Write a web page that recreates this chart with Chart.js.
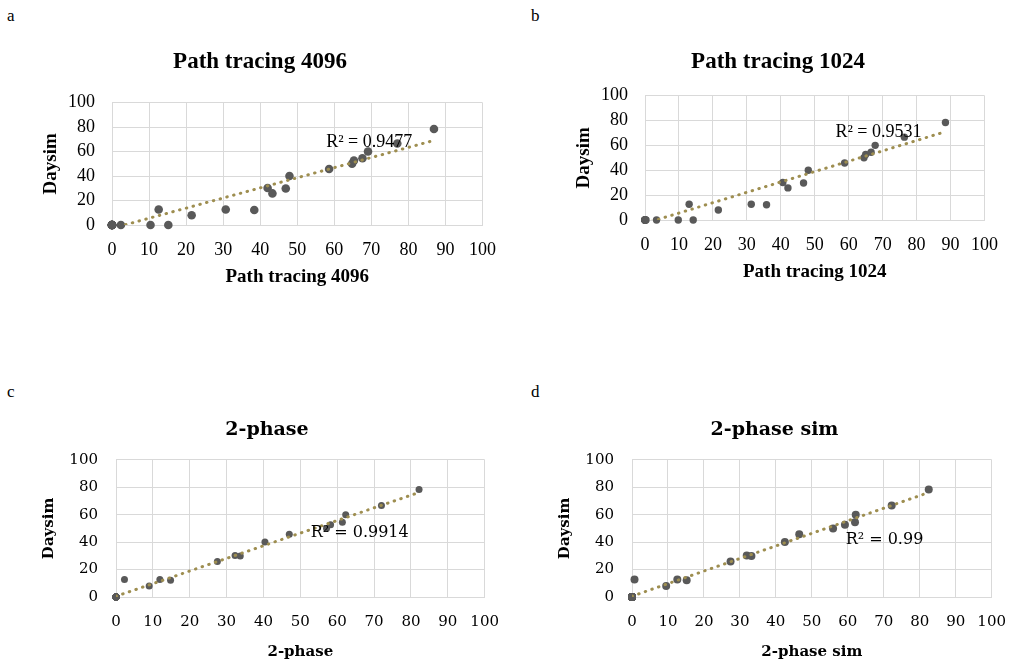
<!DOCTYPE html>
<html>
<head>
<meta charset="utf-8">
<script src="https://cdn.jsdelivr.net/npm/chart.js@4.4.1/dist/chart.umd.min.js"></script>
<style>
  body { margin: 0; background: #fff; width: 1022px; height: 661px; position: relative; overflow: hidden; }
  canvas { position: absolute; }
  .tag { position: absolute; font-family: "Liberation Serif", serif; font-size: 17px; color: #000; }
</style>
</head>
<body>
<div class="tag" style="left:7px;top:6px">a</div>
<div class="tag" style="left:531px;top:6px">b</div>
<div class="tag" style="left:7px;top:382px">c</div>
<div class="tag" style="left:531px;top:382px">d</div>

<canvas id="chartA" width="480" height="270" style="left:30px;top:30px"></canvas>
<canvas id="chartB" width="452" height="265" style="left:560px;top:30px"></canvas>
<canvas id="chartC" width="480" height="261" style="left:35px;top:400px"></canvas>
<canvas id="chartD" width="474" height="261" style="left:548px;top:400px"></canvas>

<script>
// Daysim (y) values, shared by the four panels (many sensor points sit at 0)
const daysim = [0, 0, 0, 0, 0, 0, 0, 0, 0, 0, 0, 0, 0, 0, 0,
    12.7, 8, 12.7, 12.2, 30.2, 25.8, 29.8, 40, 45.8, 50, 52.6, 54.5, 60, 66.6, 78.4];

// x values for each panel, same point order as daysim
const pathTracing4096 = [0, 0, 0, 0, 0, 0, 0, 0, 0, 0, 0, 0, 2.4, 10.4, 15.2,
    12.6, 21.5, 30.7, 38.4, 42.0, 43.3, 46.9, 47.9, 58.6, 64.8, 65.3, 67.6, 69.1, 77.0, 86.9];
const pathTracing1024 = [0, 0, 0, 0, 0, 0, 0, 0, 0, 0, 0, 0.3, 3.4, 9.8, 14.2,
    13.0, 21.6, 31.3, 35.8, 40.6, 42.1, 46.7, 48.1, 58.8, 64.5, 65.0, 66.6, 67.8, 76.4, 88.5];
const twoPhase = [0, 0, 0, 0, 0, 0, 0, 0, 0, 0, 0, 0, 0, 0, 0,
    2.3, 9.0, 11.9, 14.8, 32.3, 27.5, 33.7, 40.4, 47.0, 57.1, 58.2, 61.4, 62.3, 72.0, 82.2];
const twoPhaseSim = [0, 0, 0, 0, 0, 0, 0, 0, 0, 0, 0, 0, 0, 0, 0,
    0.7, 9.5, 12.6, 15.2, 31.9, 27.4, 33.2, 42.5, 46.5, 55.9, 59.2, 62.0, 62.2, 72.2, 82.5];

const r2Texts = ['R² = 0.9477', 'R² = 0.9531', 'R² = 0.9914', 'R² = 0.99'];
const xRange = [0, 100];
const yRange = [0, 100];

const MARKER = '#595959';
const TREND = '#9e8e50';
const GRID = '#d9d9d9';

// linear trendline (least squares), like Excel's
function linearFit(xs, ys) {
    const n = xs.length;
    const mx = xs.reduce((a, b) => a + b, 0) / n;
    const my = ys.reduce((a, b) => a + b, 0) / n;
    let sxy = 0, sxx = 0;
    xs.forEach((x, i) => { sxy += (x - mx) * (ys[i] - my); sxx += (x - mx) * (x - mx); });
    const slope = sxy / sxx;
    const b = my - slope * mx;
    const x0 = Math.min(...xs), x1 = Math.max(...xs);
    return [{ x: x0, y: slope * x0 + b }, { x: x1, y: slope * x1 + b }];
}

// R² text drawn at a data position
const r2Label = {
    id: 'r2Label',
    afterDatasetsDraw(chart, args, opts) {
        const { ctx, scales } = chart;
        ctx.save();
        ctx.font = opts.font;
        ctx.fillStyle = '#000';
        ctx.textAlign = 'left';
        ctx.textBaseline = 'middle';
        ctx.fillText(opts.text, scales.x.getPixelForValue(opts.x), scales.y.getPixelForValue(opts.y));
        ctx.restore();
    }
};

function drawPanel(p) {
    const points = p.xs.map((x, i) => ({ x, y: daysim[i] }));
    new Chart(document.getElementById(p.id), {
        type: 'scatter',
        data: {
            datasets: [
                {
                    type: 'line',
                    data: linearFit(p.xs, daysim),
                    borderColor: TREND,
                    borderWidth: 3,
                    borderDash: [0.5, 6.5],
                    borderCapStyle: 'round',
                    pointRadius: 0,
                    fill: false,
                    clip: 0
                },
                {
                    data: points,
                    backgroundColor: MARKER,
                    borderColor: MARKER,
                    pointRadius: p.radius,
                    borderWidth: 0,
                    clip: false
                }
            ]
        },
        options: {
            responsive: false,
            animation: false,
            devicePixelRatio: 1,
            font: { family: p.family },
            layout: { padding: { left: 0, right: p.padRight, top: 0, bottom: 0 } },
            plugins: {
                legend: { display: false },
                tooltip: { enabled: false },
                title: {
                    display: true,
                    text: p.title,
                    color: '#000',
                    font: { family: p.family, size: p.titleSize, weight: 'bold' },
                    padding: { top: p.titleTop, bottom: p.titleBottom }
                },
                r2Label: { text: p.r2, x: p.r2x, y: p.r2y, font: p.r2Size + 'px ' + p.family }
            },
            scales: {
                x: {
                    type: 'linear',
                    min: xRange[0], max: xRange[1],
                    ticks: { stepSize: 10, autoSkip: false, maxRotation: 0, color: '#000', padding: p.xTickPad, font: { family: p.family, size: p.tickSize } },
                    grid: { color: GRID, lineWidth: 1, drawTicks: false },
                    border: { color: GRID },
                    title: {
                        display: true, text: p.xTitle, color: '#000',
                        font: { family: p.family, size: p.axisSize, weight: 'bold' },
                        padding: { top: 0, bottom: p.xTitlePad }
                    },
                    afterFit: s => { s.height = p.xAxisH; }
                },
                y: {
                    min: yRange[0], max: yRange[1],
                    ticks: { stepSize: 20, autoSkip: false, color: '#000', padding: p.yTickPad, font: { family: p.family, size: p.tickSize } },
                    grid: { color: GRID, lineWidth: 1, drawTicks: false },
                    border: { color: GRID },
                    title: {
                        display: true, text: 'Daysim', color: '#000',
                        font: { family: p.family, size: p.axisSize, weight: 'bold' },
                        padding: { top: p.yTitlePad, bottom: 0 }
                    },
                    afterFit: s => { s.width = p.yAxisW; }
                }
            }
        },
        plugins: [r2Label]
    });
}

const serifA = '"Liberation Serif", "Times New Roman", serif';
const serifC = '"DejaVu Serif", serif';

drawPanel({
    id: 'chartA', xs: pathTracing4096, title: 'Path tracing 4096', xTitle: 'Path tracing 4096',
    r2: r2Texts[0], r2x: 57.8, r2y: 68, r2Size: 18, family: serifA, titleSize: 23, axisSize: 19, tickSize: 18,
    titleTop: 18, titleBottom: 27, yAxisW: 82, yTitlePad: 10, yTickPad: 17, xAxisH: 75, xTitlePad: 12,
    xTickPad: 14, padRight: 20, radius: 4.3
});
drawPanel({
    id: 'chartB', xs: pathTracing1024, title: 'Path tracing 1024', xTitle: 'Path tracing 1024',
    r2: r2Texts[1], r2x: 56.1, r2y: 70.4, r2Size: 18, family: serifA, titleSize: 23, axisSize: 19, tickSize: 18,
    titleTop: 18, titleBottom: 20, yAxisW: 85, yTitlePad: 13, yTickPad: 17, xAxisH: 75, xTitlePad: 12,
    xTickPad: 14, padRight: 16, radius: 3.7
});
drawPanel({
    id: 'chartC', xs: twoPhase, title: '2-phase', xTitle: '2-phase',
    r2: r2Texts[2], r2x: 52.8, r2y: 47, r2Size: 16, family: serifC, titleSize: 19, axisSize: 15, tickSize: 15,
    titleTop: 19, titleBottom: 18, yAxisW: 81, yTitlePad: 5, yTickPad: 18, xAxisH: 64, xTitlePad: 0,
    xTickPad: 16, padRight: 16, radius: 3.5
});
drawPanel({
    id: 'chartD', xs: twoPhaseSim, title: '2-phase sim', xTitle: '2-phase sim',
    r2: r2Texts[3], r2x: 59.4, r2y: 42, r2Size: 16, family: serifC, titleSize: 19, axisSize: 15, tickSize: 15,
    titleTop: 19, titleBottom: 18, yAxisW: 84, yTitlePad: 8, yTickPad: 18, xAxisH: 64, xTitlePad: 0,
    xTickPad: 16, padRight: 21, radius: 4
});
</script>
</body>
</html>
